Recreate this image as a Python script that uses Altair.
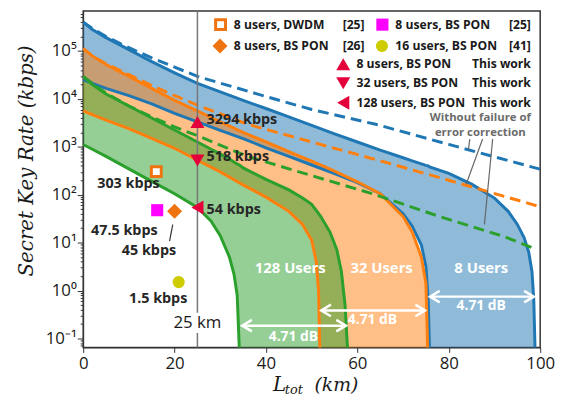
import altair as alt
import pandas as pd

# ---------------- values (kbps vs km) ----------------
# 8 users (blue band): upper and lower bound
km_8 = [0, 2, 5, 10, 15, 20, 25, 30, 35, 40, 45, 50, 55, 60, 65, 70, 72, 74, 75, 75.5, 75.8,
        80, 85, 90, 93, 95, 96.5, 97.5, 98.2, 98.6, 98.9]
upper_8 = [4.0e5, 2.8e5, 1.9e5, 1.07e5, 6.0e4, 3.5e4, 2.1e4, 1.4e4, 9300, 6300, 4200, 2800, 1860,
           1260, 850, 590, 510, 440, 410, 400, 380, 280, 166, 85, 45, 24, 12.6, 6.3, 2.5, 0.63, 0.05]
lower_8 = [2.5e4, 2.1e4, 1.66e4, 1.17e4, 7900, 5000, 3300, 2200, 1480, 955, 630, 417, 275, 178,
           105, 40, 22, 8.9, 3.2, 0.63, 0.05]

# 32 users (orange band)
km_32 = [0, 2, 5, 10, 15, 20, 25, 30, 35, 40, 45, 48, 50, 51, 51.5, 51.8, 55, 60, 65, 70, 72, 74, 75, 75.4]
upper_32 = [1.12e5, 7.9e4, 5.2e4, 2.95e4, 1.66e4, 9300, 5600, 3300, 2000, 1260, 790, 600, 500, 457,
            437, 427, 310, 186, 105, 35, 16.6, 5.0, 1.4, 0.05]
lower_32 = [5600, 4700, 3600, 2400, 1500, 930, 525, 300, 160, 89, 45, 24, 11.2, 4.0, 1.0, 0.05]

# 128 users (green band)
km_128 = [0, 2, 5, 10, 15, 20, 25, 28, 30, 32, 33, 33.7, 34.2, 35, 40, 45, 48, 50, 52, 54, 55.5,
          56.5, 57.3, 57.9]
upper_128 = [2.95e4, 2.0e4, 1.26e4, 7100, 4000, 2240, 1260, 890, 710, 550, 480, 437, 417, 363, 209,
             126, 85, 63, 35, 16.6, 7.1, 2.5, 0.5, 0.05]
lower_128 = [1120, 890, 630, 347, 190, 105, 54, 28, 14, 5.0, 2.2, 0.8, 0.05]

# dashed: without failure of error correction
km_8d = [0, 2, 5, 10, 15, 20, 25, 40, 50, 64, 80, 100]
dash_8 = [4.0e5, 2.95e5, 2.0e5, 1.17e5, 7.2e4, 4.6e4, 2.95e4, 1.12e4, 6000, 2950, 1120, 340]
km_32d = [0, 2, 5, 10, 15, 20, 25, 36, 50, 66, 80, 100]
dash_32 = [1.12e5, 7.9e4, 5.4e4, 3.2e4, 1.9e4, 1.17e4, 7400, 2950, 1260, 480, 200, 56]
km_128d = [0, 2, 5, 10, 15, 20, 25, 36, 50, 63, 78, 92, 99.3]
dash_128 = [2.95e4, 2.1e4, 1.32e4, 7100, 4200, 2600, 1700, 630, 250, 107, 35, 13.5, 7.2]

# experimental points
ref_km = [16, 16.2, 20, 20.9]
ref_kbps = [303, 47.5, 45, 1.5]
this_km = [25, 25, 25]
this_kbps = [3294, 518, 54]

x_ticks = [0, 20, 40, 60, 80, 100]
y_major = [0.1, 1, 10, 100, 1000, 10000, 100000]
y_labels = ["10⁻¹", "10⁰", "10¹", "10²", "10³", "10⁴", "10⁵"]

# ---------------- styling ----------------
BLUE, ORANGE, GREEN = "#1f77b4", "#ff7f0e", "#2ca02c"
MK_ORANGE = "#ef7410"
RED = "#e4003b"
FLOOR = 0.05
YDOM = [0.065, 6.8e5]
FONT = "Open Sans"
SERIF = "DejaVu Serif"

xs = alt.Scale(domain=[0, 100], nice=False, zero=False)
ys = alt.Scale(type="log", domain=YDOM, nice=False)

y_minor = [m * d for d in [0.01, 0.1, 1, 10, 100, 1000, 10000, 100000]
           for m in range(2, 10) if YDOM[0] <= m * d < YDOM[1]]
label_expr = "".join(f"datum.value == {v} ? '{t}' : " for v, t in zip(y_major, y_labels)) + "''"
major_test = "indexof([" + ",".join(str(v) for v in y_major) + "], datum.value) >= 0"

x_axis = alt.Axis(values=x_ticks, format="d", title=None, grid=False, labelFont=FONT,
                  labelFontSize=17, labelColor="#1a1a1a", tickSize=5, tickColor="#333",
                  domainColor="#333", labelFlush=False, labelPadding=3)
y_axis = alt.Axis(values=y_major + y_minor, labelExpr=label_expr, grid=False, labelFont=FONT,
                  labelFontSize=17, labelColor="#1a1a1a", labelOverlap=False,
                  tickSize={"condition": {"test": major_test, "value": 6}, "value": 3},
                  tickColor="#333", domainColor="#333", labelPadding=1,
                  title="Secret Key Rate (kbps)", titleFont=SERIF, titleFontStyle="italic",
                  titleFontWeight="normal", titleFontSize=20, titleColor="#1a1a1a",
                  titleAngle=270, titleX=-57, titleY=151, titleAlign="center",
                  titleBaseline="middle")


def enc(xf, yf):
    return dict(x=alt.X(f"{xf}:Q", scale=xs, axis=x_axis),
                y=alt.Y(f"{yf}:Q", scale=ys, axis=y_axis))


def pix(xf="px", yf="py"):
    return dict(x=alt.X(f"{xf}:Q", scale=None, axis=None),
                y=alt.Y(f"{yf}:Q", scale=None, axis=None))


def band(km, up, lo, color):
    lo_full = lo + [FLOOR] * (len(km) - len(lo))
    df = pd.DataFrame({"km": km, "up": up, "lo": lo_full})
    return alt.Chart(df).mark_area(color=color, opacity=0.5, clip=True).encode(
        **enc("km", "up"), y2=alt.Y2("lo:Q"))


def curve(km, vals, color, dashed=False):
    df = pd.DataFrame({"km": km[:len(vals)], "v": vals})
    kw = dict(color=color, strokeWidth=3, clip=True)
    if dashed:
        kw["strokeDash"] = [11, 6]
    return alt.Chart(df).mark_line(**kw).encode(**enc("km", "v"))


layers = [
    band(km_8, upper_8, lower_8, BLUE),
    band(km_32, upper_32, lower_32, ORANGE),
    band(km_128, upper_128, lower_128, GREEN),
    curve(km_8, upper_8, BLUE), curve(km_8, lower_8, BLUE),
    curve(km_32, upper_32, ORANGE), curve(km_32, lower_32, ORANGE),
    curve(km_128, upper_128, GREEN), curve(km_128, lower_128, GREEN),
    curve(km_8d, dash_8, BLUE, True), curve(km_32d, dash_32, ORANGE, True),
    curve(km_128d, dash_128, GREEN, True),
]

# 25 km marker line (broken behind its label)
vline = pd.DataFrame({"km": [25, 25], "v": [9e5, 0.13], "v2": [0.344, FLOOR]})
layers.append(alt.Chart(vline).mark_rule(color="#777", strokeWidth=1.5, clip=True).encode(
    **enc("km", "v"), y2="v2:Q"))
layers.append(alt.Chart(pd.DataFrame({"km": [25], "v": [0.214], "t": ["25 km"]})).mark_text(
    font=FONT, fontSize=17, color="#1a1a1a", align="center", baseline="middle").encode(
    **enc("km", "v"), text="t:N"))

# white arrows (4.71 dB)
arrows = pd.DataFrame({"a": [75.9, 52.1, 34.8], "b": [98.6, 74.8, 57.5], "v": [0.746, 0.384, 0.185]})
layers.append(alt.Chart(arrows).mark_rule(color="white", strokeWidth=2.5).encode(
    **enc("a", "v"), x2="b:Q"))
layers.append(alt.Chart(arrows).mark_point(shape="M 1 -0.6 L 0 0 L 1 0.6", size=380, filled=False,
                                           stroke="white", strokeWidth=2.5, opacity=1).encode(**enc("a", "v")))
layers.append(alt.Chart(arrows).mark_point(shape="M -1 -0.6 L 0 0 L -1 0.6", size=380, filled=False,
                                           stroke="white", strokeWidth=2.5, opacity=1).encode(**enc("b", "v")))
white_txt = pd.DataFrame({
    "km": [45.3, 65.3, 87.1, 87.1, 63.3, 46.0],
    "v": [2.88, 2.88, 2.88, 0.465, 0.239, 0.108],
    "t": ["128 Users", "32 Users", "8 Users", "4.71 dB", "4.71 dB", "4.71 dB"],
    "s": [15, 15, 15, 14, 14, 14]})
layers.append(alt.Chart(white_txt).mark_text(font=FONT, fontWeight="bold", color="white",
                                             align="center", baseline="middle").encode(
    **enc("km", "v"), text="t:N", size=alt.Size("s:Q", scale=None, legend=None)))

# "Without failure of error correction" note with leader lines
leaders = pd.DataFrame({"a": [84.6, 87.4, 89.6, 19.6], "b": [84.3, 83.8, 87.8, 18.9],
                        "v": [1450, 1450, 1450, 23.7], "w": [870, 165, 24, 10.7],
                        "c": ["#666", "#666", "#666", "#333"]})
layers.append(alt.Chart(leaders).mark_rule(strokeWidth=1.2).encode(
    **enc("a", "v"), x2="b:Q", y2="w:Q", color=alt.Color("c:N", scale=None)))
note = pd.DataFrame({"km": [86.9, 86.9], "v": [3900, 1900], "t": ["Without failure of", "error correction"]})
layers.append(alt.Chart(note).mark_text(font=FONT, fontWeight="bold", fontSize=11.5, color="#6b6b6b",
                                        align="center", baseline="middle").encode(**enc("km", "v"), text="t:N"))

# experimental markers
pts_ref = pd.DataFrame({"km": ref_km, "v": ref_kbps})
layers.append(alt.Chart(pts_ref.iloc[[0]]).mark_point(shape="square", size=100, filled=True, fill="white",
                                                      stroke=MK_ORANGE, strokeWidth=3, opacity=1).encode(**enc("km", "v")))
layers.append(alt.Chart(pts_ref.iloc[[1]]).mark_point(shape="square", size=150, filled=True, color="#ff00ff",
                                                      opacity=1).encode(**enc("km", "v")))
layers.append(alt.Chart(pts_ref.iloc[[2]]).mark_point(shape="diamond", size=230, filled=True, color=MK_ORANGE,
                                                      opacity=1).encode(**enc("km", "v")))
layers.append(alt.Chart(pts_ref.iloc[[3]]).mark_point(shape="circle", size=150, filled=True, color="#cccc00",
                                                      opacity=1).encode(**enc("km", "v")))
pts_this = pd.DataFrame({"km": this_km, "v": this_kbps})
for i, shp in enumerate(["triangle-up", "triangle-down", "triangle-left"]):
    layers.append(alt.Chart(pts_this.iloc[[i]]).mark_point(shape=shp, size=200, filled=True, color=RED,
                                                           opacity=1).encode(**enc("km", "v")))

lab_left = pd.DataFrame({"km": [27.0, 27.0, 27.0], "v": [3670, 600, 48],
                         "t": ["3294 kbps", "518 kbps", "54 kbps"]})
lab_ctr = pd.DataFrame({"km": [9.9, 9.0, 14.4, 16.4], "v": [166, 17.2, 6.65, 0.67],
                        "t": ["303 kbps", "47.5 kbps", "45 kbps", "1.5 kbps"]})
for df, al in [(lab_left, "left"), (lab_ctr, "center")]:
    layers.append(alt.Chart(df).mark_text(font=FONT, fontWeight="bold", fontSize=14.5, color="#262626",
                                          align=al, baseline="middle").encode(**enc("km", "v"), text="t:N"))

# ---------------- manual legend (plot pixel positions) ----------------
R1, R2, R3, R4, R5 = 13.7, 35.3, 53.7, 73.0, 92.7
leg_pts = [
    (138.9, R1, "square", 100, "white", MK_ORANGE),
    (138.3, R2, "diamond", 230, MK_ORANGE, None),
    (302.5, R1, "square", 150, "#ff00ff", None),
    (302.0, R2, "circle", 150, "#cccc00", None),
    (262.9, R3, "triangle-up", 200, RED, None),
    (262.9, R4, "triangle-down", 200, RED, None),
    (262.9, R5, "triangle-left", 200, RED, None),
]
for px, py, shp, sz, fill, stroke in leg_pts:
    kw = dict(shape=shp, size=sz, filled=True, fill=fill, opacity=1)
    if stroke:
        kw.update(stroke=stroke, strokeWidth=3)
    layers.append(alt.Chart(pd.DataFrame({"px": [px], "py": [py]})).mark_point(**kw).encode(**pix()))

leg_left = pd.DataFrame({
    "px": [152.3, 152.3, 262.3, 262.3, 315.6, 315.6, 276.3, 276.3, 276.3],
    "py": [R1, R2, R1, R2, R1, R2, R3, R4, R5],
    "t": ["8 users, DWDM", "8 users, BS PON", "[25]", "[26]", "8 users, BS PON", "16 users, BS PON",
          "8 users, BS PON", "32 users, BS PON", "128 users, BS PON"]})
leg_right = pd.DataFrame({"px": [452.6] * 5, "py": [R1, R2, R3, R4, R5],
                          "t": ["[25]", "[41]", "This work", "This work", "This work"]})
for df, al in [(leg_left, "left"), (leg_right, "right")]:
    layers.append(alt.Chart(df).mark_text(font=FONT, fontWeight="bold", fontSize=12.3, color="#1a1a1a",
                                          align=al, baseline="middle").encode(**pix(), text="t:N"))

# x-axis title  L_tot (km)
xt = pd.DataFrame({"px": [198.5, 213.0, 256.0], "py": [378.0, 383.0, 378.0],
                   "t": ["L", "tot", "(km)"], "s": [20, 13, 19]})
layers.append(alt.Chart(xt).mark_text(font=SERIF, fontStyle="italic", color="#1a1a1a",
                                      align="center", baseline="middle").encode(
    **pix(), text="t:N", size=alt.Size("s:Q", scale=None, legend=None)))

chart = alt.layer(*layers).properties(
    width=462, height=340,
    autosize=alt.AutoSizeParams(type="none"),
    padding={"left": 76, "top": 1, "right": 17, "bottom": 47},
).configure_view(stroke="#333", strokeWidth=1.5)

chart.save("out.html", embed_options={"renderer": "svg", "actions": False})
